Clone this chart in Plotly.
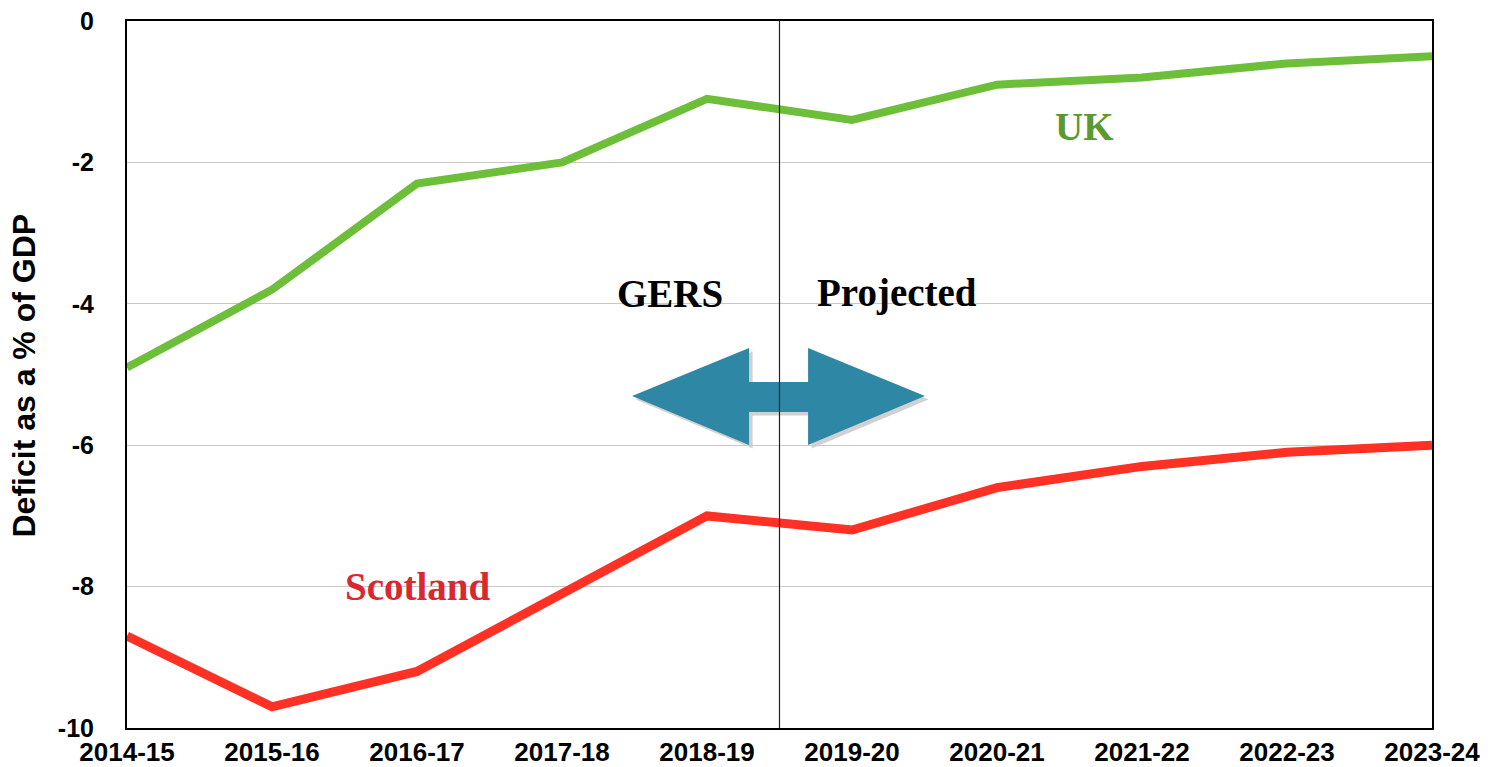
import plotly.graph_objects as go

years = ["2014-15", "2015-16", "2016-17", "2017-18", "2018-19",
         "2019-20", "2020-21", "2021-22", "2022-23", "2023-24"]
uk = [-4.9, -3.8, -2.3, -2.0, -1.1, -1.4, -0.9, -0.8, -0.6, -0.5]
scotland = [-8.7, -9.7, -9.2, -8.1, -7.0, -7.2, -6.6, -6.3, -6.1, -6.0]
y_ticks = [0, -2, -4, -6, -8, -10]
y_tick_labels = ["0", "-2", "-4", "-6", "-8", "-10"]

divider_x = 4.5

# double arrow outline (data coordinates)
ax = [3.483, 4.290, 4.290, 4.697, 4.697, 5.503, 4.697, 4.697, 4.290, 4.290]
ay = [-5.304, -4.625, -5.106, -5.106, -4.625, -5.304, -5.997, -5.530, -5.530, -5.997]


def path(xs, ys, dx=0.0, dy=0.0):
    pts = [f"{x + dx},{y + dy}" for x, y in zip(xs, ys)]
    return "M " + " L ".join(pts) + " Z"


fig = go.Figure()
fig.add_trace(go.Scatter(x=years, y=uk, mode="lines",
                         line=dict(color="#6dbf3a", width=8), name="UK"))
fig.add_trace(go.Scatter(x=years, y=scotland, mode="lines",
                         line=dict(color="#ff3024", width=9), name="Scotland"))

fig.add_shape(type="path", path=path(ax, ay, 0.025, -0.05), xref="x", yref="y",
              fillcolor="rgba(0,0,0,0.18)", line=dict(width=0), layer="below")
fig.add_shape(type="path", path=path(ax, ay), xref="x", yref="y",
              fillcolor="#2f87a6", line=dict(width=0), layer="below")
fig.add_shape(type="line", x0=divider_x, x1=divider_x, y0=0, y1=-10,
              xref="x", yref="y", line=dict(color="#222222", width=1.2))

serif = "Liberation Serif, Times New Roman, serif"
fig.add_annotation(x=3.745, y=-3.85, text="<b>GERS</b>", showarrow=False,
                   font=dict(family=serif, size=39, color="#000000"))
fig.add_annotation(x=5.31, y=-3.85, text="<b>Projected</b>", showarrow=False,
                   font=dict(family=serif, size=39, color="#000000"))
fig.add_annotation(x=6.6, y=-1.49, text="<b>UK</b>", showarrow=False,
                   font=dict(family=serif, size=39, color="#5b9a2e"))
fig.add_annotation(x=2.01, y=-8.0, text="<b>Scotland</b>", showarrow=False,
                   font=dict(family=serif, size=39, color="#d9282f"))
fig.add_annotation(xref="paper", yref="paper", x=0, y=0.5, xshift=-103.5, yshift=-1.5,
                   text="<b>Deficit as a % of GDP</b>", textangle=-90, showarrow=False,
                   xanchor="center", yanchor="middle",
                   font=dict(family="Liberation Sans, Arial, sans-serif", size=32, color="#000000"))

fig.update_layout(
    width=1491, height=767,
    margin=dict(l=127, r=59, t=21, b=39),
    paper_bgcolor="white", plot_bgcolor="white",
    showlegend=False,
    font=dict(family="Liberation Sans, Arial, sans-serif", color="#000000"),
)
fig.update_xaxes(
    type="category", range=[0, 9], automargin=False,
    showline=True, mirror=True, linecolor="#000000", linewidth=2,
    showgrid=False, ticks="", ticklabelstandoff=0,
    tickfont=dict(size=26, weight="bold", color="#000000"),
)
fig.update_yaxes(
    range=[-10, 0], tickvals=y_ticks, ticktext=y_tick_labels, automargin=False,
    showline=True, mirror=True, linecolor="#000000", linewidth=2,
    showgrid=True, gridcolor="#c8c8c8", gridwidth=1, zeroline=False,
    ticks="outside", ticklen=26, tickcolor="rgba(0,0,0,0)",
    tickfont=dict(size=25, weight="bold", color="#000000"),
)

fig.write_html("out.html")
